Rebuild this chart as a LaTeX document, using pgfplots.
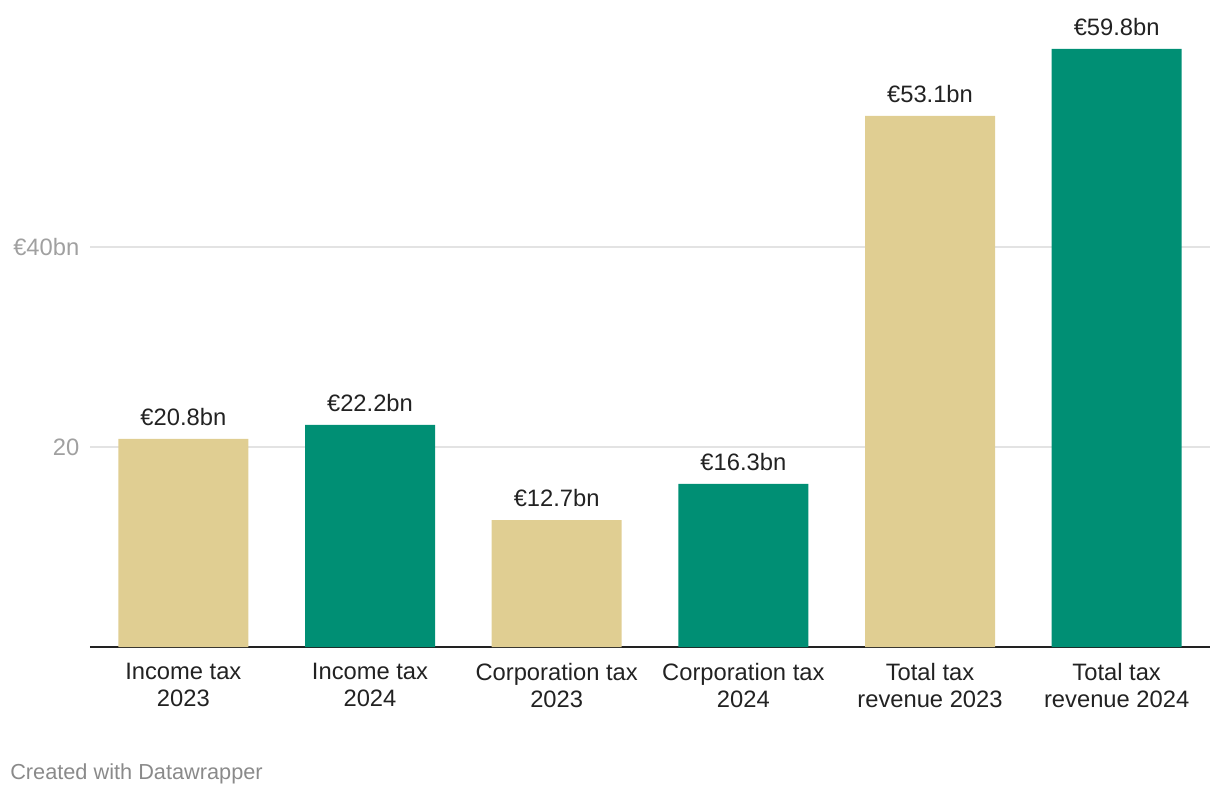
\documentclass[border=0pt]{standalone}
\usepackage{fontspec}
\setmainfont{Liberation Sans}
\usepackage{pgfplots}
\pgfplotsset{compat=1.18}
\definecolor{sand}{HTML}{E0CE92}
\definecolor{teal}{HTML}{008F74}
\definecolor{textdark}{HTML}{222222}
\definecolor{tickgrey}{HTML}{A0A0A0}
\definecolor{gridgrey}{HTML}{E3E3E3}
\definecolor{credgrey}{HTML}{8A8A8A}

\begin{document}
\begin{tikzpicture}[font=\fontsize{17.8}{20.4}\selectfont]
\useasboundingbox (-67.5pt,-111.75pt) rectangle (847.5pt,485.25pt);
\begin{axis}[
ybar,
bar width=97.5pt,
bar shift=0pt,
width=840pt,
height=450pt,
scale only axis,
xmin=-0.5, xmax=5.5,
ymin=0, ymax=60,
clip=false,
axis lines*=left,
y axis line style={draw=none},
x axis line style={line width=1.5pt, color=textdark, -},
tick style={draw=none},
ytick={20,40},
yticklabels={20,€40bn},
ymajorgrids,
grid style={color=gridgrey, line width=0.9pt},
yticklabel style={text=tickgrey, xshift=-4.5pt},
xtick={0,...,5},
xticklabels={{Income tax\\2023},{Income tax\\2024},{Corporation tax\\2023},{Corporation tax\\2024},{Total tax\\revenue 2023},{Total tax\\revenue 2024}},
xticklabel style={align=center, text=textdark, yshift=-4.5pt},
/pgf/number format/assume math mode=true,
nodes near coords={€\pgfmathprintnumber[fixed,precision=1,fixed zerofill]{\pgfplotspointmeta}bn},
every node near coord/.append style={text=textdark, yshift=6.5pt},
]
\addplot [fill=sand, draw=none] coordinates {
	(0,20.8)
	(2,12.7)
	(4,53.1)
};
\addplot [fill=teal, draw=none] coordinates {
	(1,22.2)
	(3,16.3)
	(5,59.8)
};
\end{axis}
\node[anchor=west, inner sep=0pt, text=credgrey, font=\fontsize{16.3}{18}\selectfont] at (-60pt,-95.25pt) {Created with Datawrapper};
\end{tikzpicture}
\end{document}
